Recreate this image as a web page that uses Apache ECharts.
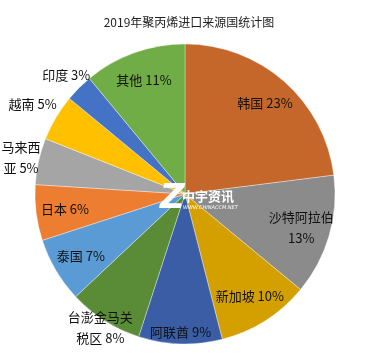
<!DOCTYPE html>
<html><head><meta charset="utf-8">
<script src="https://cdn.jsdelivr.net/npm/echarts@6/dist/echarts.min.js"></script>
<style>html,body{margin:0;padding:0;background:#fff}#c{width:378px;height:360px}</style>
</head><body><div id="c"></div>
<script>
const titleText = '2019年聚丙烯进口来源国统计图';
const categories = ['韩国','沙特阿拉伯','新加坡','阿联酋','台澎金马关税区','泰国','日本','马来西亚','越南','印度','其他'];
const shares = [23,13,10,9,8,7,6,5,5,3,11];
const colors = ['#C5672A','#8B8B8B','#D4A000','#3A5DA5','#5A8C37','#5B9BD5','#ED7D31','#A5A5A5','#FFC000','#4472C4','#70AD47'];
// where a label line breaks (character index in the name), if it does
const labelBreaks = {'沙特阿拉伯':5,'马来西亚':3,'台澎金马关税区':5};
// which label ring each label sits on
const labelRing = [0,0,0,1,2,0,0,3,4,3,0];
const rings = [[86,150],[120,150],[140,170],[150,180],[150,198]];

function labelText(i){
  const name = categories[i], pct = shares[i] + '%';
  const b = labelBreaks[name];
  if (b === undefined) return name + ' ' + pct;
  if (b >= name.length) return name + '\n' + pct;
  return name.slice(0,b) + '\n' + name.slice(b) + ' ' + pct;
}
const center = [185,194];
const series = [{
  type:'pie', center:center, radius:[0,150], startAngle:90, clockwise:true,
  avoidLabelOverlap:false, silent:true,
  label:{show:false}, labelLine:{show:false},
  itemStyle:{borderColor:'rgba(255,255,255,0.6)', borderWidth:0.6},
  data: categories.map((n,i)=>({name:n, value:shares[i], itemStyle:{color:colors[i]}}))
}];
rings.forEach((r,ri)=>{
  series.push({
    type:'pie', center:center, radius:r, startAngle:90, clockwise:true,
    avoidLabelOverlap:false, silent:true, z:5,
    itemStyle:{color:'rgba(0,0,0,0)', borderWidth:0},
    labelLine:{show:false},
    label:{show:true, position:'inside', color:'#111', fontSize:13, lineHeight:21,
      fontFamily:'"Noto Sans CJK SC","Noto Sans",sans-serif',
      formatter:p=> labelRing[p.dataIndex]===ri ? labelText(p.dataIndex) : ''},
    data: categories.map((n,i)=>({name:n, value:shares[i]}))
  });
});
const chart = echarts.init(document.getElementById('c'), null, {renderer:'canvas'});
chart.setOption({
  animation:false,
  title:{text:titleText, left:'center', top:11,
    textStyle:{fontSize:12, fontWeight:'normal', color:'#222', fontFamily:'"Noto Sans CJK SC",sans-serif'}},
  series: series,
  graphic:[
    {type:'text', left:160, top:182, z:100, style:{text:'Z', fill:'#fff', font:'italic bold 34px "DejaVu Sans",sans-serif'}},
    {type:'text', left:182, top:190, z:100, style:{text:'中宇资讯', fill:'#fff', font:'bold 13px "Noto Sans CJK SC",sans-serif'}},
    {type:'text', left:183, top:205, z:100, style:{text:'WWW.CHINACCM.NET', fill:'#fff', font:'italic 5px "DejaVu Sans",sans-serif'}}
  ]
});
</script></body></html>
